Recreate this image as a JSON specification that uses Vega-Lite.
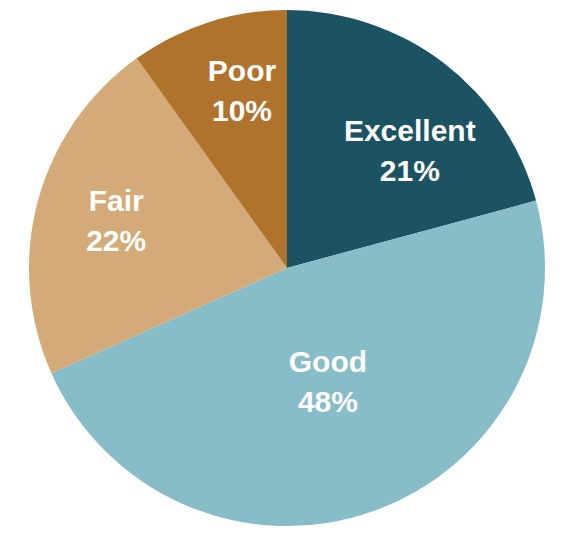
{
  "$schema": "https://vega.github.io/schema/vega-lite/v6.json",
  "width": 574,
  "height": 536,
  "padding": 0,
  "autosize": {"type": "none"},
  "background": "white",
  "view": {"stroke": null},
  "data": {
    "values": [
      {"category": "Excellent", "pct": 21, "order": 1},
      {"category": "Good", "pct": 48, "order": 2},
      {"category": "Fair", "pct": 22, "order": 3},
      {"category": "Poor", "pct": 10, "order": 4}
    ]
  },
  "transform": [
    {"stack": "pct", "sort": [{"field": "order", "order": "ascending"}], "groupby": [], "as": ["s0", "s1"]},
    {"calculate": "(datum.s0 + datum.s1) / 2", "as": "mid"},
    {"calculate": "datum.category + '\\n' + datum.pct + '%'", "as": "label"}
  ],
  "encoding": {
    "color": {
      "field": "category",
      "type": "nominal",
      "scale": {
        "domain": ["Excellent", "Good", "Fair", "Poor"],
        "range": ["#1b5363", "#87bcc9", "#d4aa78", "#b0732c"]
      },
      "legend": null
    }
  },
  "layer": [
    {
      "mark": {"type": "arc", "outerRadius": 258},
      "encoding": {
        "theta": {"field": "s0", "type": "quantitative", "scale": {"domain": [0, 101], "range": [0, 6.283185307179586]}},
        "theta2": {"field": "s1"}
      }
    },
    {
      "transform": [{"filter": "datum.category == 'Excellent'"}],
      "mark": {
        "type": "text", "font": "Liberation Sans", "fontWeight": "bold", "fontSize": 30,
        "lineHeight": 40, "lineBreak": "\n", "baseline": "middle", "align": "center",
        "fill": "white", "radius": 169, "thetaOffset": 0.16, "dy": -20
      },
      "encoding": {
        "theta": {"field": "mid", "type": "quantitative", "scale": {"domain": [0, 101], "range": [0, 6.283185307179586]}},
        "text": {"field": "label"},
        "color": {"value": "white"}
      }
    },
    {
      "transform": [{"filter": "datum.category == 'Good'"}],
      "mark": {
        "type": "text", "font": "Liberation Sans", "fontWeight": "bold", "fontSize": 30,
        "lineHeight": 40, "lineBreak": "\n", "baseline": "middle", "align": "center",
        "fill": "white", "radius": 122, "dy": -20
      },
      "encoding": {
        "theta": {"field": "mid", "type": "quantitative", "scale": {"domain": [0, 101], "range": [0, 6.283185307179586]}},
        "text": {"field": "label"},
        "color": {"value": "white"}
      }
    },
    {
      "transform": [{"filter": "datum.category == 'Fair'"}],
      "mark": {
        "type": "text", "font": "Liberation Sans", "fontWeight": "bold", "fontSize": 30,
        "lineHeight": 40, "lineBreak": "\n", "baseline": "middle", "align": "center",
        "fill": "white", "radius": 177, "dy": -20
      },
      "encoding": {
        "theta": {"field": "mid", "type": "quantitative", "scale": {"domain": [0, 101], "range": [0, 6.283185307179586]}},
        "text": {"field": "label"},
        "color": {"value": "white"}
      }
    },
    {
      "transform": [{"filter": "datum.category == 'Poor'"}],
      "mark": {
        "type": "text", "font": "Liberation Sans", "fontWeight": "bold", "fontSize": 30,
        "lineHeight": 40, "lineBreak": "\n", "baseline": "middle", "align": "center",
        "fill": "white", "radius": 182, "thetaOffset": 0.061, "dy": -20
      },
      "encoding": {
        "theta": {"field": "mid", "type": "quantitative", "scale": {"domain": [0, 101], "range": [0, 6.283185307179586]}},
        "text": {"field": "label"},
        "color": {"value": "white"}
      }
    }
  ]
}
